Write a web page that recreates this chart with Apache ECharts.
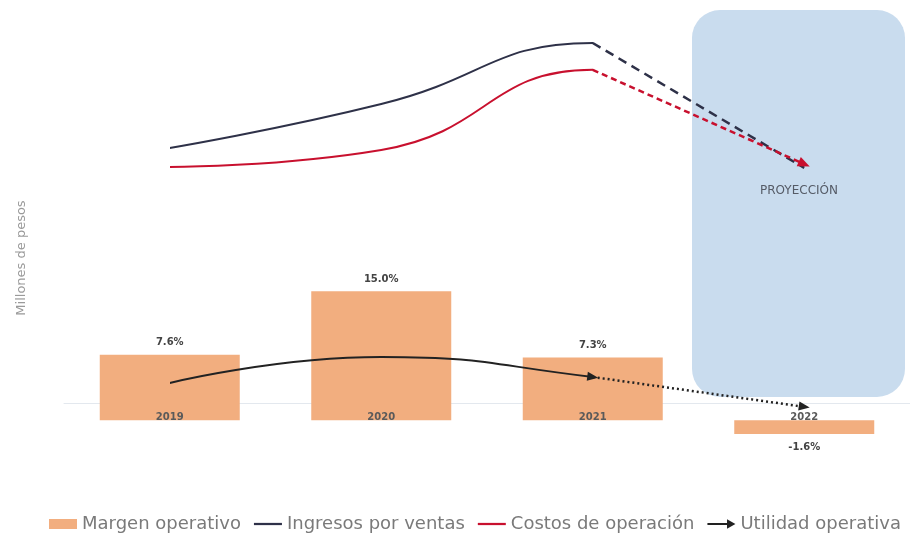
<!DOCTYPE html>
<html>
<head>
<meta charset="utf-8">
<script src="https://cdn.jsdelivr.net/npm/echarts@6/dist/echarts.min.js"></script>
<style>
html,body{margin:0;padding:0;background:#fff;}
#chart{width:910px;height:542px;}
</style>
</head>
<body>
<div id="chart"></div>
<script>
// ---- data ----
var years = ['2019', '2020', '2021', '2022'];
var margenOperativo = [7.6, 15.0, 7.3, -1.6];          // %
var ingresosVentas = [137.6, 161.3, 194.2, 126.8];      // millones de pesos (estimated)
var costosOperacion = [127.3, 136.5, 179.7, 128.9];     // millones de pesos (estimated)
var utilidadOperativa = [10.8, 24.8, 14.0, -2.1];       // millones de pesos (estimated)
var lastReal = 2; // index of 2021, last non-projected year

var NAVY = '#2e3148', RED = '#c8102e', BLACK = '#222222', ORANGE = '#f2ae7f';
var FONT = 'DejaVu Sans';

var chart = echarts.init(document.getElementById('chart'), null, {renderer: 'canvas'});

function hideAfter(seriesIndex, color) {
  return {
    show: false, type: 'piecewise', seriesIndex: seriesIndex, dimension: 0,
    pieces: [
      {gte: 0, lte: lastReal, color: color},
      {gt: lastReal, lte: years.length - 1, color: 'rgba(255,255,255,0)'}
    ]
  };
}
function projection(values, color, type) {
  return {
    silent: true,
    symbol: ['none', 'none'],
    label: {show: false},
    emphasis: {disabled: true},
    lineStyle: {color: color, type: type, width: 2.5},
    data: [[
      {coord: [lastReal, values[lastReal]]},
      {coord: [3, values[3]]}
    ]]
  };
}

var option = {
  animation: false,
  backgroundColor: '#ffffff',
  textStyle: {fontFamily: FONT},
  grid: {left: 64, right: 0, top: 10, bottom: 102},
  graphic: [
    {type: 'rect', z: 0, shape: {x: 692, y: 10, width: 213, height: 387, r: 28},
     style: {fill: '#c9dcee'}},
    {type: 'text', z: 1, x: 799, y: 191,
     style: {text: 'PROYECCIÓN', fill: '#555b66', font: '12px "DejaVu Sans"', textAlign: 'center', textVerticalAlign: 'middle'}},
    {type: 'text', z: 1, x: 22, y: 258, rotation: Math.PI / 2,
     style: {text: 'Millones de pesos', fill: '#9a9a9a', font: '13px "DejaVu Sans"', textAlign: 'center', textVerticalAlign: 'middle'}}
  ],
  legend: {
    bottom: 4, left: 44, itemGap: 13, itemWidth: 28, itemHeight: 10,
    selectedMode: false,
    textStyle: {color: '#7a7a7a', fontSize: 18, fontFamily: FONT},
    data: [
      {name: 'Margen operativo', icon: 'rect', itemStyle: {color: ORANGE}},
      {name: 'Ingresos por ventas', icon: 'path://M0,0 L30,0 L30,2.4 L0,2.4 Z', itemStyle: {color: NAVY}},
      {name: 'Costos de operación', icon: 'path://M0,0 L30,0 L30,2.4 L0,2.4 Z', itemStyle: {color: RED}},
      {name: 'Utilidad operativa', icon: 'path://M0,4 L21,4 L21,0 L30,5 L21,10 L21,6 L0,6 Z', itemStyle: {color: BLACK}}
    ]
  },
  visualMap: [hideAfter(1, NAVY), hideAfter(2, RED), hideAfter(3, BLACK)],
  xAxis: [
    {
      type: 'category', data: years, offset: -37, z: 0,
      axisLine: {show: true, onZero: false, lineStyle: {color: '#e3e8ee', width: 1}},
      axisTick: {show: false},
      axisLabel: {show: false}
    },
    {
      type: 'category', data: years, offset: -37, z: 10, position: 'bottom',
      axisLine: {show: false},
      axisTick: {show: false},
      axisLabel: {color: '#5a5a5a', fontSize: 10, fontWeight: 'bold', margin: 9}
    }
  ],
  yAxis: [
    {type: 'value', min: -20, max: 212, show: false, splitLine: {show: false}},
    {type: 'value', min: -2.3, max: 47.7, show: false, splitLine: {show: false}}
  ],
  series: [
    {
      name: 'Margen operativo', type: 'bar', yAxisIndex: 1, barWidth: 140, clip: false,
      itemStyle: {color: ORANGE}, z: 1,
      label: {
        show: true, position: 'top', distance: 7, color: '#444', fontSize: 10, fontWeight: 'bold',
        formatter: function (p) { return p.value.toFixed(1) + '%'; }
      },
      data: margenOperativo.map(function (v) {
        return v < 0 ? {value: v, label: {position: 'bottom', distance: 8}} : v;
      })
    },
    {
      name: 'Ingresos por ventas', type: 'line', smooth: true, symbol: 'none', z: 3,
      lineStyle: {width: 2},
      data: ingresosVentas,
      markLine: projection(ingresosVentas, NAVY, [9, 6])
    },
    {
      name: 'Costos de operación', type: 'line', smooth: true, symbol: 'none', z: 4,
      lineStyle: {width: 2},
      data: costosOperacion,
      markLine: projection(costosOperacion, RED, [6, 4])
    },
    {
      name: 'Utilidad operativa', type: 'line', smooth: true, symbol: 'none', z: 3,
      lineStyle: {width: 2},
      data: utilidadOperativa.map(function (v, i) {
        return i === lastReal ? {value: v, symbol: 'triangle', symbolSize: [9, 11], symbolRotate: -97} : v;
      }),
      markLine: projection(utilidadOperativa, BLACK, [2, 3])
    },
    {
      name: 'proyección-flechas', type: 'scatter', z: 6, silent: true, clip: false,
      symbol: 'triangle',
      data: [
        {value: [3, costosOperacion[3]], symbolSize: [10, 12], symbolRotate: -114, itemStyle: {color: RED, opacity: 1}},
        {value: [3, utilidadOperativa[3]], symbolSize: [9, 11], symbolRotate: -98, itemStyle: {color: BLACK, opacity: 1}}
      ]
    }
  ]
};
chart.setOption(option);
</script>
</body>
</html>
